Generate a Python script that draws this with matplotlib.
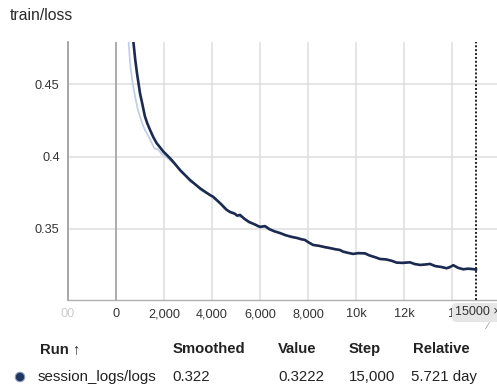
import matplotlib
matplotlib.use("Agg")
import matplotlib.pyplot as plt
from matplotlib.patches import FancyBboxPatch, Ellipse

plt.rcParams['font.family'] = ['Liberation Sans', 'DejaVu Sans']

W, H = 497, 391

# ---- data ----
smooth_steps = [650, 700, 750, 800, 875, 1000, 1100, 1200, 1300, 1417, 1550, 1694, 1850, 1972,
                2150, 2319, 2500, 2667, 2875, 3083, 3300, 3500, 3700, 3917, 4050, 4194, 4400,
                4611, 4750, 4950, 5050, 5167, 5350, 5550, 5800, 6000, 6208, 6400, 6600, 6833,
                7050, 7300, 7542, 7700, 7875, 8000, 8208, 8450, 8700, 8917, 9150, 9333, 9458,
                9650, 9875, 10100, 10375, 10550, 10800, 11000, 11250, 11500, 11694, 11950,
                12250, 12450, 12667, 12900, 13083, 13300, 13550, 13778, 13900, 14056, 14250,
                14472, 14650, 14819, 15000]
smooth_vals = [0.492, 0.483, 0.475, 0.467, 0.4574, 0.4436, 0.436, 0.4280, 0.4230, 0.4184,
               0.4135, 0.4092, 0.4060, 0.4034, 0.4005, 0.3976, 0.3940, 0.3907, 0.3872, 0.3838,
               0.3808, 0.3781, 0.3758, 0.3734, 0.3722, 0.3700, 0.3668, 0.3632, 0.3617, 0.3605,
               0.3592, 0.3597, 0.3570, 0.3548, 0.3530, 0.3514, 0.3520, 0.3498, 0.3484, 0.3472,
               0.3458, 0.3446, 0.3438, 0.3430, 0.3424, 0.3410, 0.3390, 0.3384, 0.3375, 0.3368,
               0.3360, 0.3355, 0.3344, 0.3336, 0.3328, 0.3333, 0.3332, 0.3318, 0.3305, 0.3293,
               0.3290, 0.3280, 0.3268, 0.3266, 0.3270, 0.3258, 0.3252, 0.3255, 0.3259, 0.3244,
               0.3238, 0.3229, 0.3236, 0.3250, 0.3232, 0.3222, 0.3226, 0.3224, 0.3220]

raw_steps = [450, 500, 600, 700, 800, 900, 1000, 1100, 1200, 1300, 1400, 1500, 1600, 1750,
             1900, 2100, 2300, 2500, 2700, 2900, 3100, 3300, 3500, 3700, 3900, 4100, 4300,
             4500, 4700, 4900, 5100, 5300, 5500, 5700, 5900, 6100, 6300, 6500, 6700, 6900,
             7100, 7300, 7500, 7700, 7900, 8100, 8300, 8500, 8700, 8900, 9100, 9300, 9500,
             9700, 9900, 10100, 10300, 10500, 10700, 10900, 11100, 11300, 11500, 11700,
             11900, 12100, 12300, 12500, 12700, 12900, 13100, 13300, 13500, 13700, 13900,
             14100, 14300, 14500, 14700, 14900, 15000]
raw_vals = [0.497, 0.484, 0.462, 0.450, 0.441, 0.433, 0.4275, 0.4225, 0.4185, 0.4155, 0.4125,
            0.4090, 0.4055, 0.4050, 0.4020, 0.3995, 0.3965, 0.3945, 0.3895, 0.3870, 0.3825,
            0.3812, 0.3770, 0.3752, 0.3740, 0.3705, 0.3688, 0.3640, 0.3625, 0.3615, 0.3585,
            0.3580, 0.3545, 0.3540, 0.3515, 0.3522, 0.3500, 0.3490, 0.3478, 0.3468, 0.3452,
            0.3448, 0.3436, 0.3432, 0.3420, 0.3402, 0.3386, 0.3385, 0.3370, 0.3372, 0.3358,
            0.3356, 0.3340, 0.3335, 0.3328, 0.3338, 0.3330, 0.3320, 0.3310, 0.3298, 0.3292,
            0.3288, 0.3278, 0.3266, 0.3268, 0.3272, 0.3266, 0.3255, 0.3250, 0.3258, 0.3255,
            0.3242, 0.3238, 0.3228, 0.3240, 0.3246, 0.3228, 0.3220, 0.3228, 0.3222, 0.3222]

xticks = [-2000, 0, 2000, 4000, 6000, 8000, 10000, 12000, 14000]
xtick_labels = ["00", "0", "2,000", "4,000", "6,000", "8,000", "10k", "12k", "1"]
yticks = [0.35, 0.40, 0.45]
ytick_labels = ["0.35", "0.4", "0.45"]
title = "train/loss"
headers = ["Run \u2191", "Smoothed", "Value", "Step", "Relative"]
row = ["session_logs/logs", "0.322", "0.3222", "15,000", "5.721 day"]
hover_step = 15000

# ---- figure ----
fig = plt.figure(figsize=(W / 100, H / 100), dpi=100)
fig.patch.set_facecolor("white")


def fx(x):
    return x / W


def fy(y):
    return 1 - y / H


ax = fig.add_axes([fx(68), fy(300), fx(497) - fx(68), fy(42) - fy(300)])
ax.set_xlim(-2000, 15875)
ax.set_ylim(0.301, 0.479)

ax.plot(raw_steps, raw_vals, color="#bccde6", lw=1.2, zorder=2)
ax.plot(smooth_steps, smooth_vals, color="#1b2a4e", lw=1.9, zorder=3)
ax.axvline(hover_step, color="#222222", lw=1.4, ls=(0, (1, 1)), zorder=4)

for s in ["top", "right"]:
    ax.spines[s].set_visible(False)
ax.spines["left"].set_color("#9a9a9a")
ax.spines["bottom"].set_color("#b0b0b0")
ax.spines["left"].set_linewidth(1.2)
ax.spines["bottom"].set_linewidth(1.0)

ax.set_xticks(xticks)
ax.set_xticklabels(xtick_labels, fontsize=9.2, color="#333333")
ax.set_yticks(yticks)
ax.set_yticklabels(ytick_labels, fontsize=9.2, color="#333333")
ax.tick_params(length=0, pad=6)
ax.get_xticklabels()[0].set_color("#cccccc")
ax.grid(True, color="#dedede", lw=1.1)
ax.axvline(0, color="#a8a8a8", lw=1.3, zorder=1)
ax.set_axisbelow(True)

# title
fig.text(fx(10), fy(15), title, fontsize=11.3, color="#2a2a2a", va="center", ha="left")

# hover box
box = FancyBboxPatch((fx(452), fy(322)), fx(60), fy(303) - fy(322),
                     boxstyle="round,pad=0,rounding_size=0.01",
                     transform=fig.transFigure, facecolor="#e6e6e6", edgecolor="none",
                     zorder=5)
fig.add_artist(box)
fig.text(fx(455), fy(312), "15000 \u00d7", fontsize=9.0, color="#333333",
         va="center", ha="left", zorder=6)
fig.text(fx(487), fy(326), "\u2215", fontsize=7, color="#888888", va="center", ha="left")

# table
col_x = [40, 173, 278, 349, 413]
row_x = [38, 172, 278, 349, 411]
for x, h in zip(col_x, headers):
    fig.text(fx(x), fy(349), h, fontsize=10.7, fontweight="bold", color="#222222",
             va="center", ha="left")
for x, v in zip(row_x, row):
    fig.text(fx(x), fy(377), v, fontsize=10.8, color="#222222", va="center", ha="left")

dot = Ellipse((fx(20), fy(377)), 9.5 / W, 9.5 / H, transform=fig.transFigure,
              facecolor="#1f3760", edgecolor="#8ea2c0", lw=0.8)
fig.add_artist(dot)

fig.savefig("out.png", dpi=100, facecolor="white")
